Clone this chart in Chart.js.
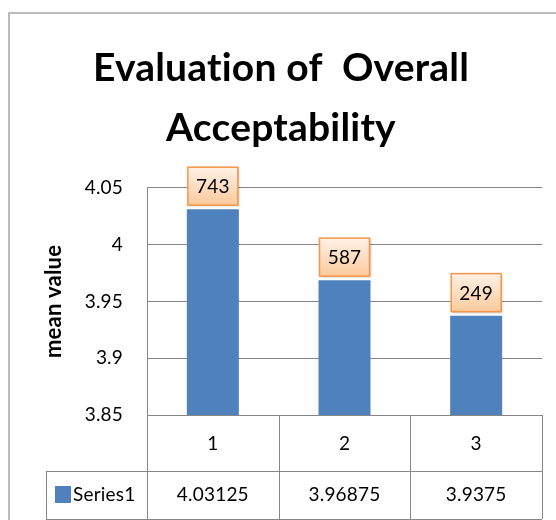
<!DOCTYPE html>
<html>
<head>
<meta charset="utf-8">
<script src="https://cdn.jsdelivr.net/npm/chart.js@4.4.0/dist/chart.umd.min.js"></script>
<style>
  body { margin: 0; background: #fff; }
  canvas { display: block; }
</style>
</head>
<body>
<canvas id="chart" width="556" height="520"></canvas>
<script>
// chart data
const categories = ['1', '2', '3'];
const meanValues = [4.03125, 3.96875, 3.9375];
const boxLabels = ['743', '587', '249'];
const yTicks = [3.85, 3.9, 3.95, 4, 4.05];
const seriesName = 'Series1';

const barColor = '#4f81bd';
const lineColor = '#868686';

Chart.defaults.font.family = 'Lato';
Chart.defaults.color = '#000';

// outer frame of the picture (also turns off Lato's "ti" ligature)
const framePlugin = {
  id: 'frame',
  beforeDraw(chart) {
    const c = chart.ctx;
    c.letterSpacing = '0.2px';
    c.save();
    c.fillStyle = '#fff';
    c.fillRect(0, 0, chart.width, chart.height);
    c.strokeStyle = '#a6a6a6';
    c.lineWidth = 1.5;
    c.beginPath();
    c.moveTo(9, chart.height);
    c.lineTo(9, 13);
    c.lineTo(chart.width, 13);
    c.stroke();
    c.restore();
  }
};

// orange label boxes above the bars
const labelBoxPlugin = {
  id: 'labelBoxes',
  afterDatasetsDraw(chart) {
    const c = chart.ctx;
    const bars = chart.getDatasetMeta(0).data;
    c.save();
    bars.forEach((bar, i) => {
      const w = 50, h = 38;
      const x = bar.x - w / 2;
      const y = bar.y - 4 - h;
      c.shadowColor = 'rgba(0,0,0,0.25)';
      c.shadowOffsetX = 1;
      c.shadowOffsetY = 1;
      c.shadowBlur = 2;
      const g = c.createLinearGradient(0, y, 0, y + h);
      g.addColorStop(0, '#fff1e6');
      g.addColorStop(1, '#fbca9c');
      c.fillStyle = g;
      c.fillRect(x, y, w, h);
      c.shadowColor = 'transparent';
      c.strokeStyle = '#f79646';
      c.lineWidth = 1.5;
      c.strokeRect(x, y, w, h);
      c.fillStyle = '#000';
      c.font = '19px Lato';
      c.textAlign = 'center';
      c.textBaseline = 'middle';
      c.fillText(boxLabels[i], bar.x, y + h / 2 + 1);
    });
    c.restore();
  }
};

// data table under the plot
const tablePlugin = {
  id: 'dataTable',
  afterDraw(chart) {
    const c = chart.ctx;
    const area = chart.chartArea;
    const n = categories.length;
    const colW = (area.right - area.left) / n;
    const row1 = area.bottom + 56;
    const row2 = row1 + 48;
    const tableLeft = 46;
    c.save();
    c.strokeStyle = lineColor;
    c.lineWidth = 1;
    c.beginPath();
    c.moveTo(tableLeft, row1 + 0.5); c.lineTo(area.right, row1 + 0.5);
    c.moveTo(tableLeft, row2 + 0.5); c.lineTo(area.right, row2 + 0.5);
    c.moveTo(tableLeft + 0.5, row1); c.lineTo(tableLeft + 0.5, row2);
    for (let i = 0; i <= n; i++) {
      const x = Math.round(area.left + i * colW) + 0.5;
      c.moveTo(x, area.bottom); c.lineTo(x, row2);
    }
    c.stroke();

    const midY = (row1 + row2) / 2;
    c.fillStyle = barColor;
    c.fillRect(55, midY - 9, 16, 17);
    c.fillStyle = '#000';
    c.font = '19px Lato';
    c.textBaseline = 'middle';
    c.textAlign = 'left';
    c.fillText(seriesName, 73, midY);
    c.textAlign = 'center';
    meanValues.forEach((v, i) => {
      c.fillText(String(v), area.left + (i + 0.5) * colW, midY);
    });
    c.restore();
  }
};

new Chart(document.getElementById('chart'), {
  type: 'bar',
  data: {
    labels: categories,
    datasets: [{
      label: seriesName,
      data: meanValues,
      backgroundColor: barColor,
      barPercentage: 0.395,
      categoryPercentage: 1
    }]
  },
  options: {
    responsive: false,
    animation: false,
    layout: { padding: { left: 20, right: 14, top: 0, bottom: 49 } },
    plugins: {
      legend: { display: false },
      tooltip: { enabled: false },
      title: {
        display: true,
        text: ['Evaluation of  Overall', 'Acceptability'],
        font: { family: 'Lato', size: 39, weight: 'bold', lineHeight: 1.55 },
        color: '#000',
        padding: { top: 38, bottom: 29 }
      }
    },
    scales: {
      x: {
        grid: { display: false, drawTicks: false },
        border: { display: false },
        ticks: { font: { size: 19 }, padding: 17, color: '#000' },
        afterFit(scale) { scale.height = 56; }
      },
      y: {
        min: 3.85,
        max: 4.05,
        afterBuildTicks(scale) { scale.ticks = yTicks.map(v => ({ value: v })); },
        afterFit(scale) { scale.width = 127; },
        grid: { color: lineColor, lineWidth: 1, drawTicks: false },
        border: { color: lineColor },
        ticks: {
          font: { size: 19 },
          padding: 24,
          color: '#000',
          callback: v => String(parseFloat(Number(v).toFixed(2)))
        },
        title: {
          display: true,
          text: 'mean value',
          font: { size: 22, weight: 'bold' },
          padding: 21
        }
      }
    }
  },
  plugins: [framePlugin, labelBoxPlugin, tablePlugin]
});
</script>
</body>
</html>
